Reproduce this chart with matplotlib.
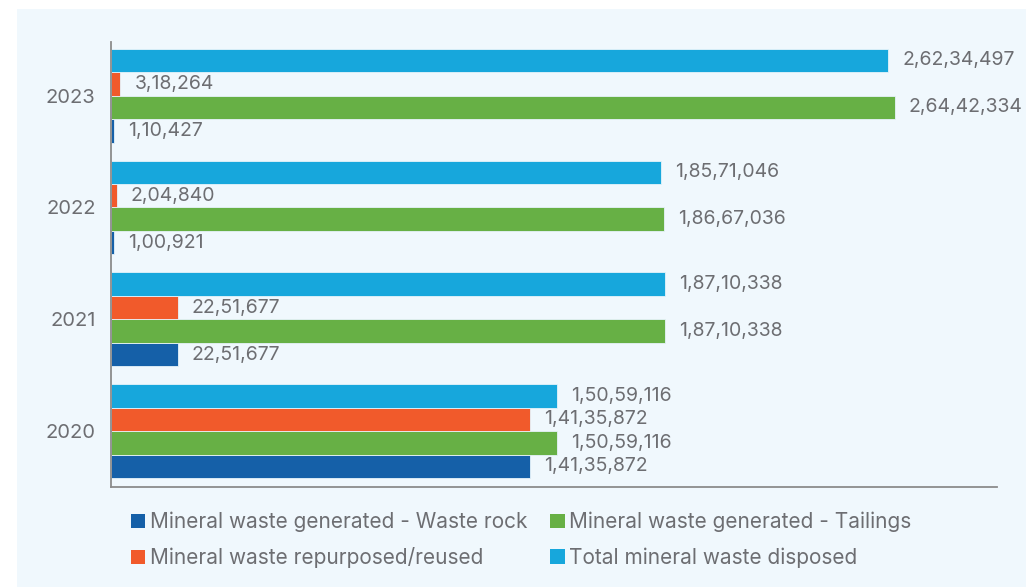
import numpy as np
import matplotlib.pyplot as plt
from matplotlib.patches import Rectangle

# data
years = ["2020", "2021", "2022", "2023"]
waste_rock = [14135872, 2251677, 100921, 110427]
tailings = [15059116, 18710338, 18667036, 26442334]
repurposed = [14135872, 2251677, 204840, 318264]
total_disposed = [15059116, 18710338, 18571046, 26234497]

series_names = ["Mineral waste generated - Waste rock",
                "Mineral waste repurposed/reused",
                "Mineral waste generated - Tailings",
                "Total mineral waste disposed"]


def indian_fmt(v):
    s = str(int(v))
    if len(s) <= 3:
        return s
    head, tail = s[:-3], s[-3:]
    parts = []
    while len(head) > 2:
        parts.insert(0, head[-2:])
        head = head[:-2]
    if head:
        parts.insert(0, head)
    return ",".join(parts) + "," + tail


plt.rcParams['font.family'] = ['Inter', 'DejaVu Sans']
txt_col = "#6d6e72"
fs = 14

fig = plt.figure(figsize=(10.26, 5.87), dpi=100)
fig.patch.set_facecolor("white")
fig.patches.append(Rectangle((17 / 1026, 0), 1, 1 - 9 / 587, transform=fig.transFigure,
                             facecolor="#f0f8fd", edgecolor="none", zorder=-10))

ax = fig.add_axes([111 / 1026, 1 - 487 / 587, (997 - 111) / 1026, (487 - 42) / 587])
ax.set_facecolor("none")
ax.set_zorder(2)

y = np.arange(len(years))
h = 0.21
# bottom to top inside each group
order = [(waste_rock, "#1560a8", -1.5), (tailings, "#67b045", -0.5),
         (repurposed, "#f15a2b", 0.5), (total_disposed, "#17a7dc", 1.5)]
bars = {}
for vals, col, off in order:
    b = ax.barh(y + off * h, vals, height=h, color=col, edgecolor="#e6f3fa", linewidth=0.6)
    bars[col] = b
    for yi, v in zip(y + off * h, vals):
        ax.annotate(indian_fmt(v), (v, yi), xytext=(10, 0), textcoords="offset points",
                    va="center", ha="left", fontsize=fs, color=txt_col, annotation_clip=False)

ax.set_xlim(0, 29.9e6)
ax.set_ylim(-0.5, 3.48)
ax.set_yticks(y, years)
ax.set_xticks([])
ax.tick_params(axis="y", length=0, pad=11, labelsize=fs + 0.5, labelcolor=txt_col)
for s in ["top", "right"]:
    ax.spines[s].set_visible(False)
for s in ["left", "bottom"]:
    ax.spines[s].set_color("#8c8c8c")
    ax.spines[s].set_linewidth(1.3)

handles = [bars["#1560a8"], bars["#f15a2b"], bars["#67b045"], bars["#17a7dc"]]
leg = fig.legend(handles, series_names, ncol=2, loc="upper left",
                 bbox_to_anchor=(112 / 1026, 1 - 493 / 587), frameon=False,
                 fontsize=15, labelcolor=txt_col, handlelength=0.7, handleheight=0.7,
                 handletextpad=0.2, columnspacing=1.1, labelspacing=0.72)
for p in leg.get_patches():
    p.set_edgecolor("none")

fig.savefig("out.png", dpi=100, facecolor=fig.get_facecolor())
